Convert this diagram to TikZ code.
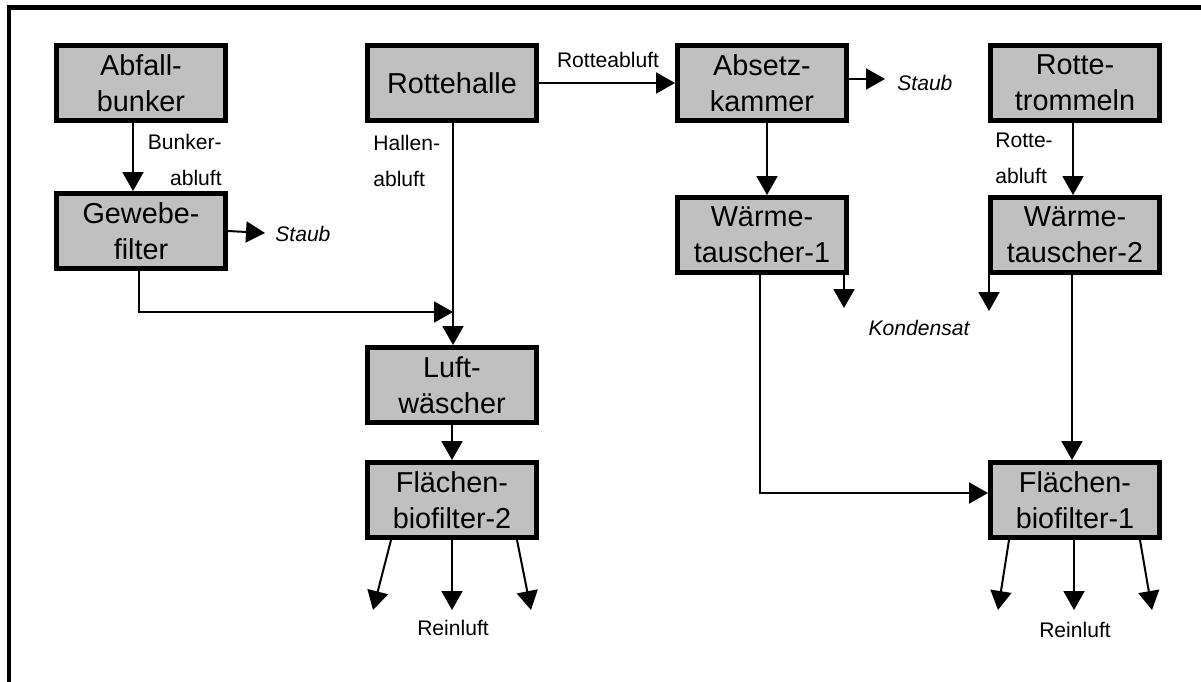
\documentclass[tikz,border=0pt]{standalone}
\usepackage{fontspec}
\setmainfont{Liberation Sans}
\usetikzlibrary{arrows.meta}
\definecolor{boxgray}{RGB}{192,192,192}
\newcommand{\boxfont}{\fontsize{16.4}{20.5}\selectfont}
\newcommand{\lblfont}{\fontsize{12}{20.5}\selectfont}

\begin{document}
\begin{tikzpicture}[x=0.02cm, y=-0.02cm,
  >={Triangle[length=3.8mm,width=4.2mm]},
  unit/.style={draw,line width=0.1cm,fill=boxgray,rectangle,inner sep=0pt,
    minimum width=3.38cm,minimum height=1.5cm,align=center,font=\boxfont},
  flow/.style={->,line width=0.04cm},
  lbl/.style={inner sep=0pt,font=\lblfont}]
  \useasboundingbox (0,0) rectangle (1201,682);
  \draw[line width=0.1cm] (9,682) -- (9,7.5) -- (1201,7.5);

  % process units
  \node [unit] (bunker)   at ( 141, 83) {Abfall-\\bunker};
  \node [unit] (gewebe)   at ( 141,231) {Gewebe-\\filter};
  \node [unit] (halle)    at ( 452, 83) {Rottehalle};
  \node [unit] (luft)     at ( 452,385) {Luft-\\wäscher};
  \node [unit] (bio2)     at ( 452,500) {Flächen-\\biofilter-2};
  \node [unit] (absetz)   at ( 762, 83) {Absetz-\\kammer};
  \node [unit] (wt1)      at ( 762,235) {Wärme-\\tauscher-1};
  \node [unit] (trommel)  at (1075, 83) {Rotte-\\trommeln};
  \node [unit] (wt2)      at (1075,235) {Wärme-\\tauscher-2};
  \node [unit] (bio1)     at (1075,500) {Flächen-\\biofilter-1};

  % free ends
  \coordinate (staubA) at (265,233);
  \coordinate (staubB) at (885, 79);
  \coordinate (merge)  at (453,312);
  \coordinate (kond1)  at (844,308);
  \coordinate (kond2)  at (989,311);
  \coordinate (r2a) at ( 373,610);
  \coordinate (r2b) at ( 452,610);
  \coordinate (r2c) at ( 531,610);
  \coordinate (r1a) at ( 998,610);
  \coordinate (r1b) at (1074,610);
  \coordinate (r1c) at (1152,610);

  % labels
  \node [lbl,align=right,anchor=east] (lbunker) at (222,160) {Bunker-\\abluft};
  \node [lbl,align=left,anchor=west]  (lhalle)  at (373,161) {Hallen-\\abluft};
  \node [lbl] (lrotte) at (608,60) {Rotteabluft};
  \node [lbl,align=left,anchor=west]  (ltrommel) at (995,158) {Rotte-\\abluft};
  \node [lbl,anchor=west,font=\lblfont\itshape] (sA) at (275,234) {Staub};
  \node [lbl,anchor=west,font=\lblfont\itshape] (sB) at (897,83) {Staub};
  \node [lbl,font=\lblfont\itshape] (kond) at (919,328) {Kondensat};
  \node [lbl] (rein2) at ( 453,628) {Reinluft};
  \node [lbl] (rein1) at (1075,630) {Reinluft};

  % air flows
  \draw [flow] ([xshift=-0.16cm]bunker.south) -- ([xshift=-0.16cm]gewebe.north);
  \draw [flow] (gewebe.east) -- (staubA);
  \draw [flow] ([xshift=-0.04cm]gewebe.south) |- (merge);
  \draw [flow] ([xshift=0.02cm]halle.south) -- ([xshift=0.02cm]luft.north);
  \draw [flow] (halle) -- (absetz);
  \draw [flow] (absetz.east |- staubB) -- (staubB);
  \draw [flow] ([xshift=0.1cm]absetz.south) -- ([xshift=0.1cm]wt1.north);
  \draw [flow] ([xshift=-0.04cm]trommel.south) -- ([xshift=-0.04cm]wt2.north);
  \draw [flow] (wt1.south -| kond1) -- (kond1);
  \draw [flow] (wt2.south -| kond2) -- (kond2);
  \draw [flow] ([xshift=-0.04cm]wt1.south) |- ([yshift=0.14cm]bio1.west);
  \draw [flow] ([xshift=-0.06cm]wt2.south) -- ([xshift=-0.06cm]bio1.north);
  \draw [flow] (luft) -- (bio2);

  % clean air out
  \draw [flow] ([xshift=-1.22cm]bio2.south) -- (r2a);
  \draw [flow] (bio2.south) -- (r2b);
  \draw [flow] ([xshift=1.3cm]bio2.south) -- (r2c);
  \draw [flow] ([xshift=-1.32cm]bio1.south) -- (r1a);
  \draw [flow] ([xshift=-0.02cm]bio1.south) -- (r1b);
  \draw [flow] ([xshift=1.3cm]bio1.south) -- (r1c);
\end{tikzpicture}
\end{document}
